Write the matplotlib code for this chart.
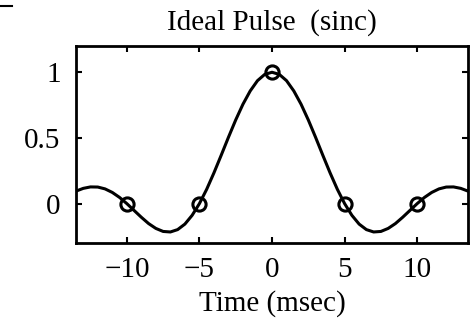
import matplotlib
matplotlib.use("Agg")
import matplotlib.pyplot as plt
from matplotlib.lines import Line2D
from matplotlib.ticker import FuncFormatter

plt.rcParams['font.family'] = ['Liberation Serif', 'DejaVu Serif']
plt.rcParams['axes.unicode_minus'] = True

# pulse (msec, amplitude)
t = [-13.5, -13.0, -12.5, -12.0, -11.5, -11.0, -10.5, -10.0, -9.5, -9.0,
     -8.5, -8.0, -7.5, -7.0, -6.5, -6.0, -5.5, -5.0, -4.5, -4.0,
     -3.5, -3.0, -2.5, -2.0, -1.5, -1.0, -0.5, 0.0, 0.5, 1.0,
     1.5, 2.0, 2.5, 3.0, 3.5, 4.0, 4.5, 5.0, 5.5, 6.0,
     6.5, 7.0, 7.5, 8.0, 8.5, 9.0, 9.5, 10.0, 10.5, 11.0,
     11.5, 12.0, 12.5, 13.0, 13.5]
pulse = [0.095, 0.116, 0.127, 0.126, 0.112, 0.085, 0.047, 0.0, -0.052, -0.104,
         -0.152, -0.189, -0.212, -0.216, -0.198, -0.156, -0.089, 0.0, 0.109, 0.234,
         0.368, 0.505, 0.637, 0.757, 0.858, 0.936, 0.984, 1.0, 0.984, 0.936,
         0.858, 0.757, 0.637, 0.505, 0.368, 0.234, 0.109, 0.0, -0.089, -0.156,
         -0.198, -0.216, -0.212, -0.189, -0.152, -0.104, -0.052, 0.0, 0.047, 0.085,
         0.112, 0.126, 0.127, 0.116, 0.095]

# sample points marked with circles
t_samp = [-10, -5, 0, 5, 10]
samp = [0, 0, 1, 0, 0]

fig = plt.figure(figsize=(4.75, 3.26), dpi=100)
ax = fig.add_axes([0.16, 0.2546, 0.8253, 0.6043])

ax.plot(t, pulse, color='black', lw=2.2)
ax.plot(t_samp, samp, 'o', mfc='none', mec='black', ms=9.5, mew=2.2)

ax.set_xlim(-13.5, 13.5)
ax.set_ylim(-0.3, 1.2)
ax.set_xticks([-10, -5, 0, 5, 10])
ax.set_yticks([0, 0.5, 1])
ax.yaxis.set_major_formatter(FuncFormatter(lambda v, p: '%g' % v))
ax.tick_params(direction='in', length=4, width=1.5, top=True, right=True,
               labelsize=21)
ax.tick_params(axis='y', pad=11)
ax.tick_params(axis='x', pad=10)
for s in ax.spines.values():
    s.set_linewidth(2.0)

ax.set_title('Ideal Pulse  (sinc)', fontsize=21, pad=12)
ax.set_xlabel('Time (msec)', fontsize=21, labelpad=5)

# small leftover stroke in the top-left corner
fig.add_artist(Line2D([0, 12/475], [1 - 5.5/326, 1 - 5.5/326], color='black', lw=1.5))

fig.savefig('out.png', dpi=100)
